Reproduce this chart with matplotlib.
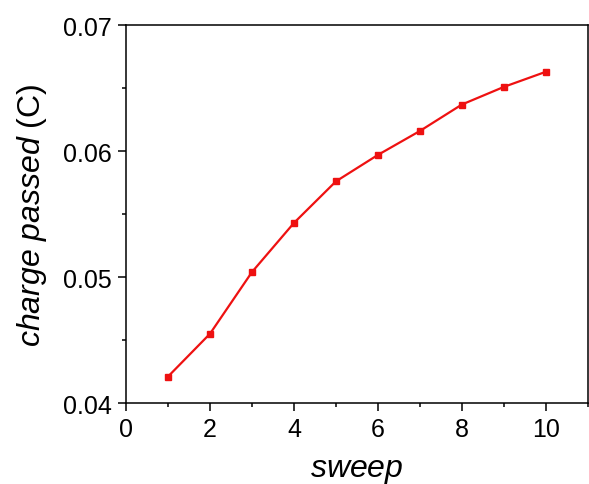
import matplotlib
matplotlib.use("Agg")
import matplotlib.pyplot as plt
from matplotlib.ticker import MultipleLocator

sweep = [1, 2, 3, 4, 5, 6, 7, 8, 9, 10]
charge = [0.0421, 0.0455, 0.0504, 0.0543, 0.0576, 0.0597, 0.0616, 0.0637, 0.0651, 0.0663]

plt.rcParams['font.family'] = ['Liberation Sans', 'DejaVu Sans']
plt.rcParams['mathtext.fontset'] = 'custom'
plt.rcParams['mathtext.rm'] = 'Liberation Sans'
plt.rcParams['mathtext.it'] = 'Liberation Sans:italic'

fig = plt.figure(figsize=(5.89, 4.85), dpi=100)
ax = fig.add_axes([0.214, 0.167, 0.784, 0.779])
ax.plot(sweep, charge, color='#ee1111', lw=1.6, marker='s', ms=4)

ax.set_xlim(0, 11)
ax.set_ylim(0.04, 0.07)
ax.xaxis.set_major_locator(MultipleLocator(2))
ax.xaxis.set_minor_locator(MultipleLocator(1))
ax.yaxis.set_major_locator(MultipleLocator(0.01))
ax.yaxis.set_minor_locator(MultipleLocator(0.005))
ax.yaxis.set_major_formatter(matplotlib.ticker.FormatStrFormatter('%.2f'))

for s in ax.spines.values():
    s.set_linewidth(1.1)
ax.tick_params(which='major', direction='out', length=6, width=1.1, labelsize=18, pad=4)
ax.tick_params(which='minor', direction='out', length=3, width=1.1)
ax.tick_params(top=False, right=False)

ax.set_xlabel(r'$\mathit{sweep}$', fontsize=23, labelpad=10)
ax.set_ylabel(r'$\mathit{charge\ passed}$ (C)', fontsize=23, labelpad=10)

fig.savefig('out.png', dpi=100)
